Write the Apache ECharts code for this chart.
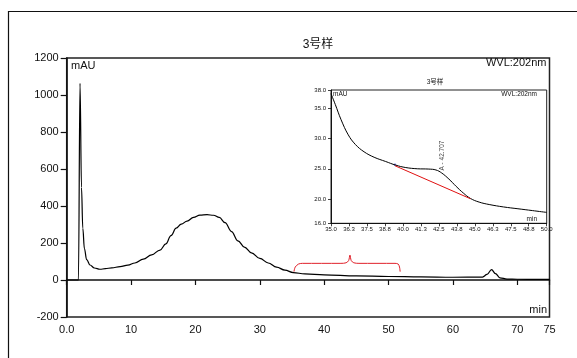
<!DOCTYPE html>
<html>
<head>
<meta charset="utf-8">
<script src="https://cdn.jsdelivr.net/npm/echarts@6/dist/echarts.min.js"></script>
<style>
  html, body { margin: 0; padding: 0; background: #fff; }
  #chart { width: 577px; height: 358px; }
</style>
</head>
<body>
<div id="chart"></div>
<script>
// main chromatogram (min, mAU)
var mainTime = [0, 1.82, 2.07, 2.3, 2.5, 2.75, 3.1, 3.62, 4.3, 5.17, 6.0, 7.0, 8.3, 9.5, 10.6, 11.9, 13.2, 14.5, 15.4, 16.2, 17.0, 17.8, 18.7, 19.7, 20.7, 21.8, 22.8, 23.7, 24.6, 25.6, 26.6, 27.6, 28.7, 30.0, 31.3, 32.6, 33.9, 35.2, 37.0, 40, 45, 50, 55, 60, 64.6, 65.3, 66.0, 66.6, 67.3, 68.4, 70, 75];
var mainAbs = [0, 0, 1063, 500, 280, 170, 110, 81, 65, 58, 61, 66, 72, 80, 92, 113, 136, 162, 195, 240, 280, 302, 318, 339, 351, 353, 350, 338, 310, 262, 212, 178, 147, 117, 92, 70, 53, 40, 33, 28, 22, 19, 17, 15, 16, 30, 56, 35, 12, 5, 4, 3];

// red brace marking the zoomed region
var braceTime = [35.3, 35.5, 36.0, 36.6, 42.6, 43.4, 43.8, 44.0, 44.2, 44.6, 45.4, 51.0, 51.5, 51.7, 51.8];
var braceAbs = [45, 70, 86, 90, 90, 93, 105, 135, 105, 93, 90, 90, 86, 70, 45];

// inset (35-50 min)
var insetTime = [35.0, 35.3, 35.7, 36.2, 36.7, 37.3, 38.0, 38.8, 39.5, 40.2, 41.0, 41.8, 42.3, 42.7, 43.2, 43.7, 44.2, 44.7, 45.3, 46.0, 47.0, 48.0, 49.0, 50.0];
var insetAbs = [37.4, 35.6, 33.1, 30.6, 29.0, 27.8, 26.9, 26.2, 25.6, 25.2, 25.0, 24.95, 24.8, 24.3, 23.3, 22.1, 21.0, 20.1, 19.5, 19.1, 18.7, 18.4, 18.1, 17.8];
var baseTime = [39.45, 44.7];
var baseAbs = [25.5, 20.05];
var peakTime = [42.707];
var peakName = ['A'];

var mainXTicks = [0, 10, 20, 30, 40, 50, 60, 70, 75];
var insetYTicks = [16, 20, 25, 30, 35, 38];

var FONT = '"Liberation Sans", Arial, "Noto Sans CJK SC", sans-serif';

function pairs(xs, ys) {
    return xs.map(function (x, i) { return [x, ys[i]]; });
}

var myChart = echarts.init(document.getElementById('chart'));

myChart.setOption({
    animation: false,
    backgroundColor: '#fff',
    textStyle: { fontFamily: FONT, color: '#000' },
    grid: [
        { left: 66.7, top: 58, width: 482.8, height: 259, show: true, borderColor: '#222', borderWidth: 1.5, outerBoundsMode: 'none' },
        { left: 331, top: 90, width: 215.7, height: 133.3, show: true, borderColor: '#222', borderWidth: 1, outerBoundsMode: 'none' }
    ],
    xAxis: [
        {
            type: 'value', gridIndex: 0, min: 0, max: 75,
            axisLine: { lineStyle: { color: '#111', width: 1.5 } },
            axisTick: { length: 5, customValues: mainXTicks, lineStyle: { color: '#111', width: 1.2 } },
            axisLabel: {
                customValues: mainXTicks, margin: 7, fontSize: 11, color: '#111', fontFamily: FONT,
                formatter: function (v) { return v === 0 ? '0.0' : String(v); }
            },
            splitLine: { show: false }
        },
        {
            type: 'value', gridIndex: 1, min: 35, max: 50, interval: 1.25,
            axisLine: { lineStyle: { color: '#111', width: 1 } },
            axisTick: { length: 3, lineStyle: { color: '#111', width: 0.8 } },
            axisLabel: {
                margin: 3, fontSize: 6, color: '#111', fontFamily: FONT,
                formatter: function (v) { return v.toFixed(1); }
            },
            splitLine: { show: false }
        }
    ],
    yAxis: [
        {
            type: 'value', gridIndex: 0, min: -200, max: 1200, interval: 200,
            axisLine: { show: true, lineStyle: { color: '#111', width: 1.5 } },
            axisTick: { show: true, length: 6, lineStyle: { color: '#111', width: 1.2 } },
            axisLabel: {
                margin: 8, fontSize: 11, color: '#111', fontFamily: FONT,
                formatter: function (v) { return String(v); }
            },
            splitLine: { show: false }
        },
        {
            type: 'value', gridIndex: 1, min: 16, max: 38,
            axisLine: { show: true, lineStyle: { color: '#111', width: 1 } },
            axisTick: { show: true, length: 3, customValues: insetYTicks, lineStyle: { color: '#111', width: 0.8 } },
            axisLabel: {
                customValues: insetYTicks, margin: 5, fontSize: 6, color: '#111', fontFamily: FONT,
                formatter: function (v) { return v.toFixed(1); }
            },
            splitLine: { show: false }
        }
    ],
    series: [
        {
            type: 'line', xAxisIndex: 0, yAxisIndex: 0,
            data: pairs(mainTime, mainAbs),
            smooth: 0.4, smoothMonotone: 'x', symbol: 'none',
            lineStyle: { color: '#000', width: 1.2 }
        },
        {
            type: 'line', xAxisIndex: 0, yAxisIndex: 0,
            data: pairs(braceTime, braceAbs),
            smooth: 0.3, symbol: 'none',
            lineStyle: { color: '#e0202a', width: 1 }
        },
        {
            type: 'line', xAxisIndex: 1, yAxisIndex: 1,
            data: pairs(insetTime, insetAbs),
            smooth: 0.4, symbol: 'none',
            lineStyle: { color: '#000', width: 1 }
        },
        {
            type: 'line', xAxisIndex: 1, yAxisIndex: 1,
            data: pairs(baseTime, baseAbs),
            symbol: 'none',
            lineStyle: { color: '#e01010', width: 1 }
        },
        {
            type: 'scatter', xAxisIndex: 1, yAxisIndex: 1,
            data: [[baseTime[0], baseAbs[0] + 0.15]],
            symbolSize: 2.5,
            itemStyle: { color: '#4a5fd0' }
        },
        {
            type: 'scatter', xAxisIndex: 1, yAxisIndex: 1,
            data: peakTime.map(function (t, i) { return { value: [t, 25.2], name: peakName[i] }; }),
            symbolSize: 0,
            label: {
                show: true, position: 'top', distance: 1, rotate: 90,
                align: 'left', verticalAlign: 'middle', offset: [-4, 0],
                fontSize: 6.5, color: '#111', fontFamily: FONT,
                formatter: function (p) { return p.name + ' - ' + p.value[0].toFixed(3); }
            }
        }
    ],
    graphic: [
        { type: 'rect', shape: { x: 8.5, y: 11.5, width: 640, height: 420 }, style: { fill: 'none', stroke: '#111', lineWidth: 1.2 }, silent: true },
        { type: 'text', x: 318, y: 45, style: { text: '3号样', fontSize: 12, fontFamily: FONT, fill: '#111', align: 'center', verticalAlign: 'middle' } },
        { type: 'text', x: 546.5, y: 63, style: { text: 'WVL:202nm', fontSize: 11, fontFamily: FONT, fill: '#111', align: 'right', verticalAlign: 'middle' } },
        { type: 'text', x: 71, y: 66, style: { text: 'mAU', fontSize: 11, fontFamily: FONT, fill: '#111', align: 'left', verticalAlign: 'middle' } },
        { type: 'text', x: 547, y: 310, style: { text: 'min', fontSize: 11, fontFamily: FONT, fill: '#111', align: 'right', verticalAlign: 'middle' } },
        { type: 'text', x: 435, y: 82, style: { text: '3号样', fontSize: 6.5, fontFamily: FONT, fill: '#111', align: 'center', verticalAlign: 'middle' } },
        { type: 'text', x: 333, y: 94.5, style: { text: 'mAU', fontSize: 6.5, fontFamily: FONT, fill: '#111', align: 'left', verticalAlign: 'middle' } },
        { type: 'text', x: 537, y: 94.5, style: { text: 'WVL:202nm', fontSize: 6.5, fontFamily: FONT, fill: '#111', align: 'right', verticalAlign: 'middle' } },
        { type: 'text', x: 537, y: 219, style: { text: 'min', fontSize: 6.5, fontFamily: FONT, fill: '#111', align: 'right', verticalAlign: 'middle' } }
    ]
});
</script>
</body>
</html>
